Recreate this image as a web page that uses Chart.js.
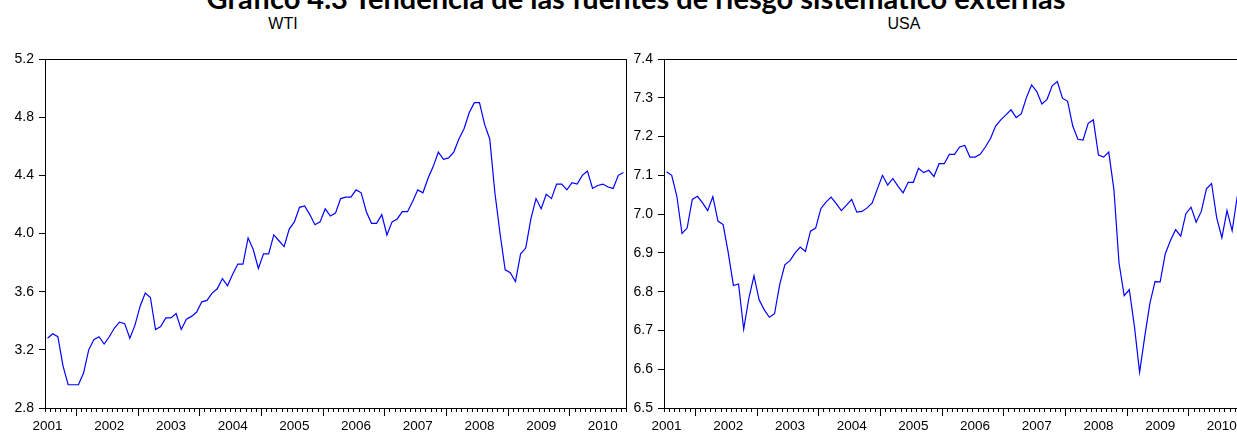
<!DOCTYPE html>
<html lang="es">
<head>
<meta charset="UTF-8">
<title>Tendencia de las fuentes de riesgo sistemático externas</title>
<script src="https://cdn.jsdelivr.net/npm/chart.js"></script>
<style>
    body {
        margin: 0;
        width: 1237px;
        height: 435px;
        overflow: hidden;
        position: relative;
        background: #fff;
        font-family: "Liberation Sans", Arial, sans-serif;
    }
    canvas { position: absolute; top: 0; }
    #cWti { left: 0; }
    #cUsa { left: 619px; }
    .title {
        position: absolute;
        left: 0; width: 1272px;
        top: -17px;
        text-align: center;
        font-family: Lato, "Open Sans", sans-serif;
        font-weight: 700;
        font-size: 29px;
        line-height: 1;
        white-space: nowrap;
    }
    .sub {
        position: absolute;
        top: 16px;
        width: 100px;
        text-align: center;
        font-size: 16px;
        line-height: 1;
        color: #000;
    }
</style>
</head>
<body>

<div class="title">Gráfico 4.3 Tendencia de las fuentes de riesgo sistemático externas</div>
<div class="sub" style="left:233px">WTI</div>
<div class="sub" style="left:854px">USA</div>

<canvas id="cWti" width="640" height="435"></canvas>
<canvas id="cUsa" width="640" height="435"></canvas>

<script>
    // monthly data, 2001M01 onwards
    const yearLabels = ['2001', '2002', '2003', '2004', '2005', '2006', '2007', '2008', '2009', '2010'];

    const wti = [
        3.28, 3.31, 3.29, 3.09, 2.96, 2.96, 2.96, 3.04, 3.20, 3.27,
        3.29, 3.24, 3.29, 3.35, 3.39, 3.38, 3.28, 3.37, 3.50, 3.59,
        3.56, 3.34, 3.36, 3.42, 3.42, 3.45, 3.34, 3.41, 3.43, 3.46,
        3.53, 3.54, 3.59, 3.62, 3.69, 3.64, 3.72, 3.79, 3.79, 3.97,
        3.89, 3.76, 3.86, 3.86, 3.99, 3.95, 3.91, 4.03, 4.08, 4.18,
        4.19, 4.13, 4.06, 4.08, 4.17, 4.12, 4.14, 4.24, 4.25, 4.25,
        4.30, 4.28, 4.15, 4.07, 4.07, 4.13, 3.99, 4.08, 4.10, 4.15,
        4.15, 4.22, 4.30, 4.28, 4.38, 4.46, 4.56, 4.51, 4.52, 4.56,
        4.65, 4.72, 4.83, 4.90, 4.90, 4.75, 4.65, 4.28, 4.00, 3.75,
        3.73, 3.67, 3.86, 3.90, 4.10, 4.24, 4.17, 4.27, 4.24, 4.34,
        4.34, 4.30, 4.35, 4.34, 4.40, 4.43, 4.31, 4.33, 4.34, 4.32,
        4.31, 4.40, 4.42
    ];

    const usa = [
        7.109, 7.100, 7.046, 6.950, 6.964, 7.038, 7.046, 7.029, 7.009, 7.045,
        6.982, 6.973, 6.900, 6.816, 6.820, 6.703, 6.783, 6.841, 6.779, 6.753,
        6.734, 6.743, 6.818, 6.869, 6.880, 6.900, 6.915, 6.904, 6.956, 6.964,
        7.014, 7.031, 7.044, 7.027, 7.009, 7.023, 7.038, 7.005, 7.007, 7.016,
        7.029, 7.065, 7.100, 7.075, 7.092, 7.072, 7.055, 7.082, 7.082, 7.118,
        7.107, 7.113, 7.097, 7.130, 7.130, 7.154, 7.154, 7.173, 7.177, 7.147,
        7.147, 7.154, 7.173, 7.195, 7.227, 7.243, 7.256, 7.269, 7.249, 7.259,
        7.301, 7.333, 7.316, 7.284, 7.296, 7.331, 7.342, 7.299, 7.291, 7.227,
        7.193, 7.191, 7.234, 7.243, 7.152, 7.147, 7.160, 7.064, 6.874, 6.790,
        6.805, 6.710, 6.592, 6.684, 6.770, 6.826, 6.825, 6.898, 6.932, 6.960,
        6.943, 7.001, 7.018, 6.979, 7.007, 7.065, 7.079, 6.990, 6.939, 7.009,
        6.957, 7.046
    ];

    const months = [];
    for (let i = 0; i < wti.length; i++) {
        const y = 2001 + Math.floor(i / 12);
        months.push(y + 'M' + String(i % 12 + 1).padStart(2, '0'));
    }

    // box around the plot + monthly / yearly tick marks under the x axis
    const frameTicks = {
        id: 'frameTicks',
        afterDraw(chart) {
            const ctx = chart.ctx;
            const a = chart.chartArea;
            const x = chart.scales.x;
            ctx.save();
            ctx.strokeStyle = '#000';
            ctx.lineWidth = 1;
            ctx.strokeRect(a.left + 0.5, a.top + 0.5, a.right - a.left, a.bottom - a.top);
            for (let k = 0; k <= months.length; k++) {
                const px = Math.round(x.getPixelForValue(k - 0.5)) + 0.5;
                const major = (k - 6) % 12 === 0;
                ctx.beginPath();
                ctx.moveTo(px, a.bottom);
                ctx.lineTo(px, a.bottom + (major ? 8 : 4));
                ctx.stroke();
            }
            ctx.restore();
        }
    };

    function makeChart(id, values, yMin, yMax, step) {
        return new Chart(document.getElementById(id), {
            type: 'line',
            data: {
                labels: months,
                datasets: [{
                    data: values,
                    borderColor: '#0000ff',
                    borderWidth: 1.2,
                    pointRadius: 0,
                    tension: 0,
                    fill: false
                }]
            },
            options: {
                responsive: false,
                animation: false,
                layout: { padding: { left: 0, top: 59, right: 14, bottom: 0 } },
                plugins: {
                    legend: { display: false },
                    tooltip: { enabled: false }
                },
                scales: {
                    x: {
                        offset: true,
                        afterBuildTicks: s => { s.ticks = yearLabels.map((y, j) => ({ value: j * 12 })); },
                        afterFit: s => { s.height = 27; },
                        grid: { drawOnChartArea: false, drawTicks: false },
                        border: { color: '#000' },
                        ticks: {
                            autoSkip: false,
                            maxRotation: 0,
                            padding: 10,
                            color: '#000',
                            font: { family: 'Liberation Sans', size: 13.5 },
                            callback: (v, i) => yearLabels[i]
                        }
                    },
                    y: {
                        min: yMin,
                        max: yMax,
                        afterFit: s => { s.width = 45; },
                        grid: { drawOnChartArea: false, tickLength: 6, tickColor: '#000' },
                        border: { color: '#000' },
                        ticks: {
                            stepSize: step,
                            padding: 5,
                            color: '#000',
                            font: { family: 'Liberation Sans', size: 14 },
                            callback: v => v.toFixed(1)
                        }
                    }
                }
            },
            plugins: [frameTicks]
        });
    }

    makeChart('cWti', wti, 2.8, 5.2, 0.4);
    makeChart('cUsa', usa, 6.5, 7.4, 0.1);
</script>
</body>
</html>
